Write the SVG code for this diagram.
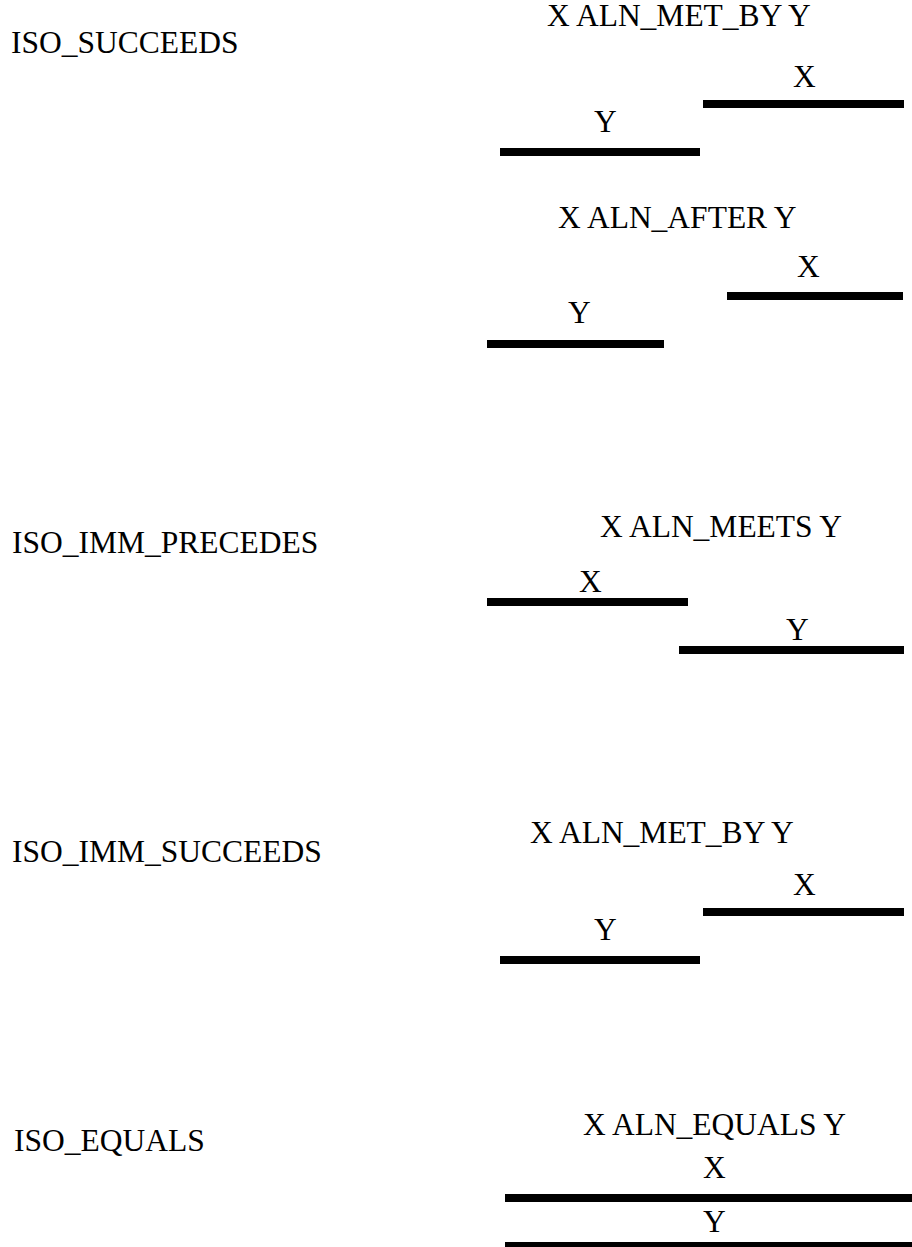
<svg xmlns="http://www.w3.org/2000/svg" width="912" height="1247" viewBox="0 0 912 1247">
<style>
.t{font-family:'Liberation Serif','Times New Roman',serif;font-size:31.5px;fill:#000}
.bar{fill:#000}
</style>
<rect width="912" height="1247" fill="#fff"/>
<g id="iso-succeeds">
<text class="t" x="11" y="53">ISO_SUCCEEDS</text>
</g>
<g id="aln-met-by-1">
<text class="t" x="547" y="26">X ALN_MET_BY Y</text>
<text class="t" x="793" y="87">X</text>
<rect class="bar" x="703" y="100" width="201" height="8"/>
<text class="t" x="594" y="132">Y</text>
<rect class="bar" x="500" y="148" width="200" height="8"/>
</g>
<g id="aln-after">
<text class="t" x="558" y="228">X ALN_AFTER Y</text>
<text class="t" x="797" y="277">X</text>
<rect class="bar" x="727" y="292" width="176" height="8"/>
<text class="t" x="568" y="323">Y</text>
<rect class="bar" x="487" y="340" width="177" height="8"/>
</g>
<g id="iso-imm-precedes">
<text class="t" x="12" y="553">ISO_IMM_PRECEDES</text>
</g>
<g id="aln-meets">
<text class="t" x="600" y="537">X ALN_MEETS Y</text>
<text class="t" x="579" y="592">X</text>
<rect class="bar" x="487" y="598" width="201" height="8"/>
<text class="t" x="786" y="640">Y</text>
<rect class="bar" x="679" y="646" width="225" height="8"/>
</g>
<g id="iso-imm-succeeds">
<text class="t" x="12" y="862">ISO_IMM_SUCCEEDS</text>
</g>
<g id="aln-met-by-2">
<text class="t" x="530" y="843">X ALN_MET_BY Y</text>
<text class="t" x="793" y="895">X</text>
<rect class="bar" x="703" y="908" width="201" height="8"/>
<text class="t" x="594" y="940">Y</text>
<rect class="bar" x="500" y="956" width="200" height="8"/>
</g>
<g id="iso-equals">
<text class="t" x="14" y="1151">ISO_EQUALS</text>
</g>
<g id="aln-equals">
<text class="t" x="583" y="1135">X ALN_EQUALS Y</text>
<text class="t" x="703" y="1178">X</text>
<rect class="bar" x="505" y="1194" width="407" height="8"/>
<text class="t" x="703" y="1232">Y</text>
<rect class="bar" x="505" y="1242" width="407" height="8"/>
</g>
<g id="connectors"/>
</svg>
